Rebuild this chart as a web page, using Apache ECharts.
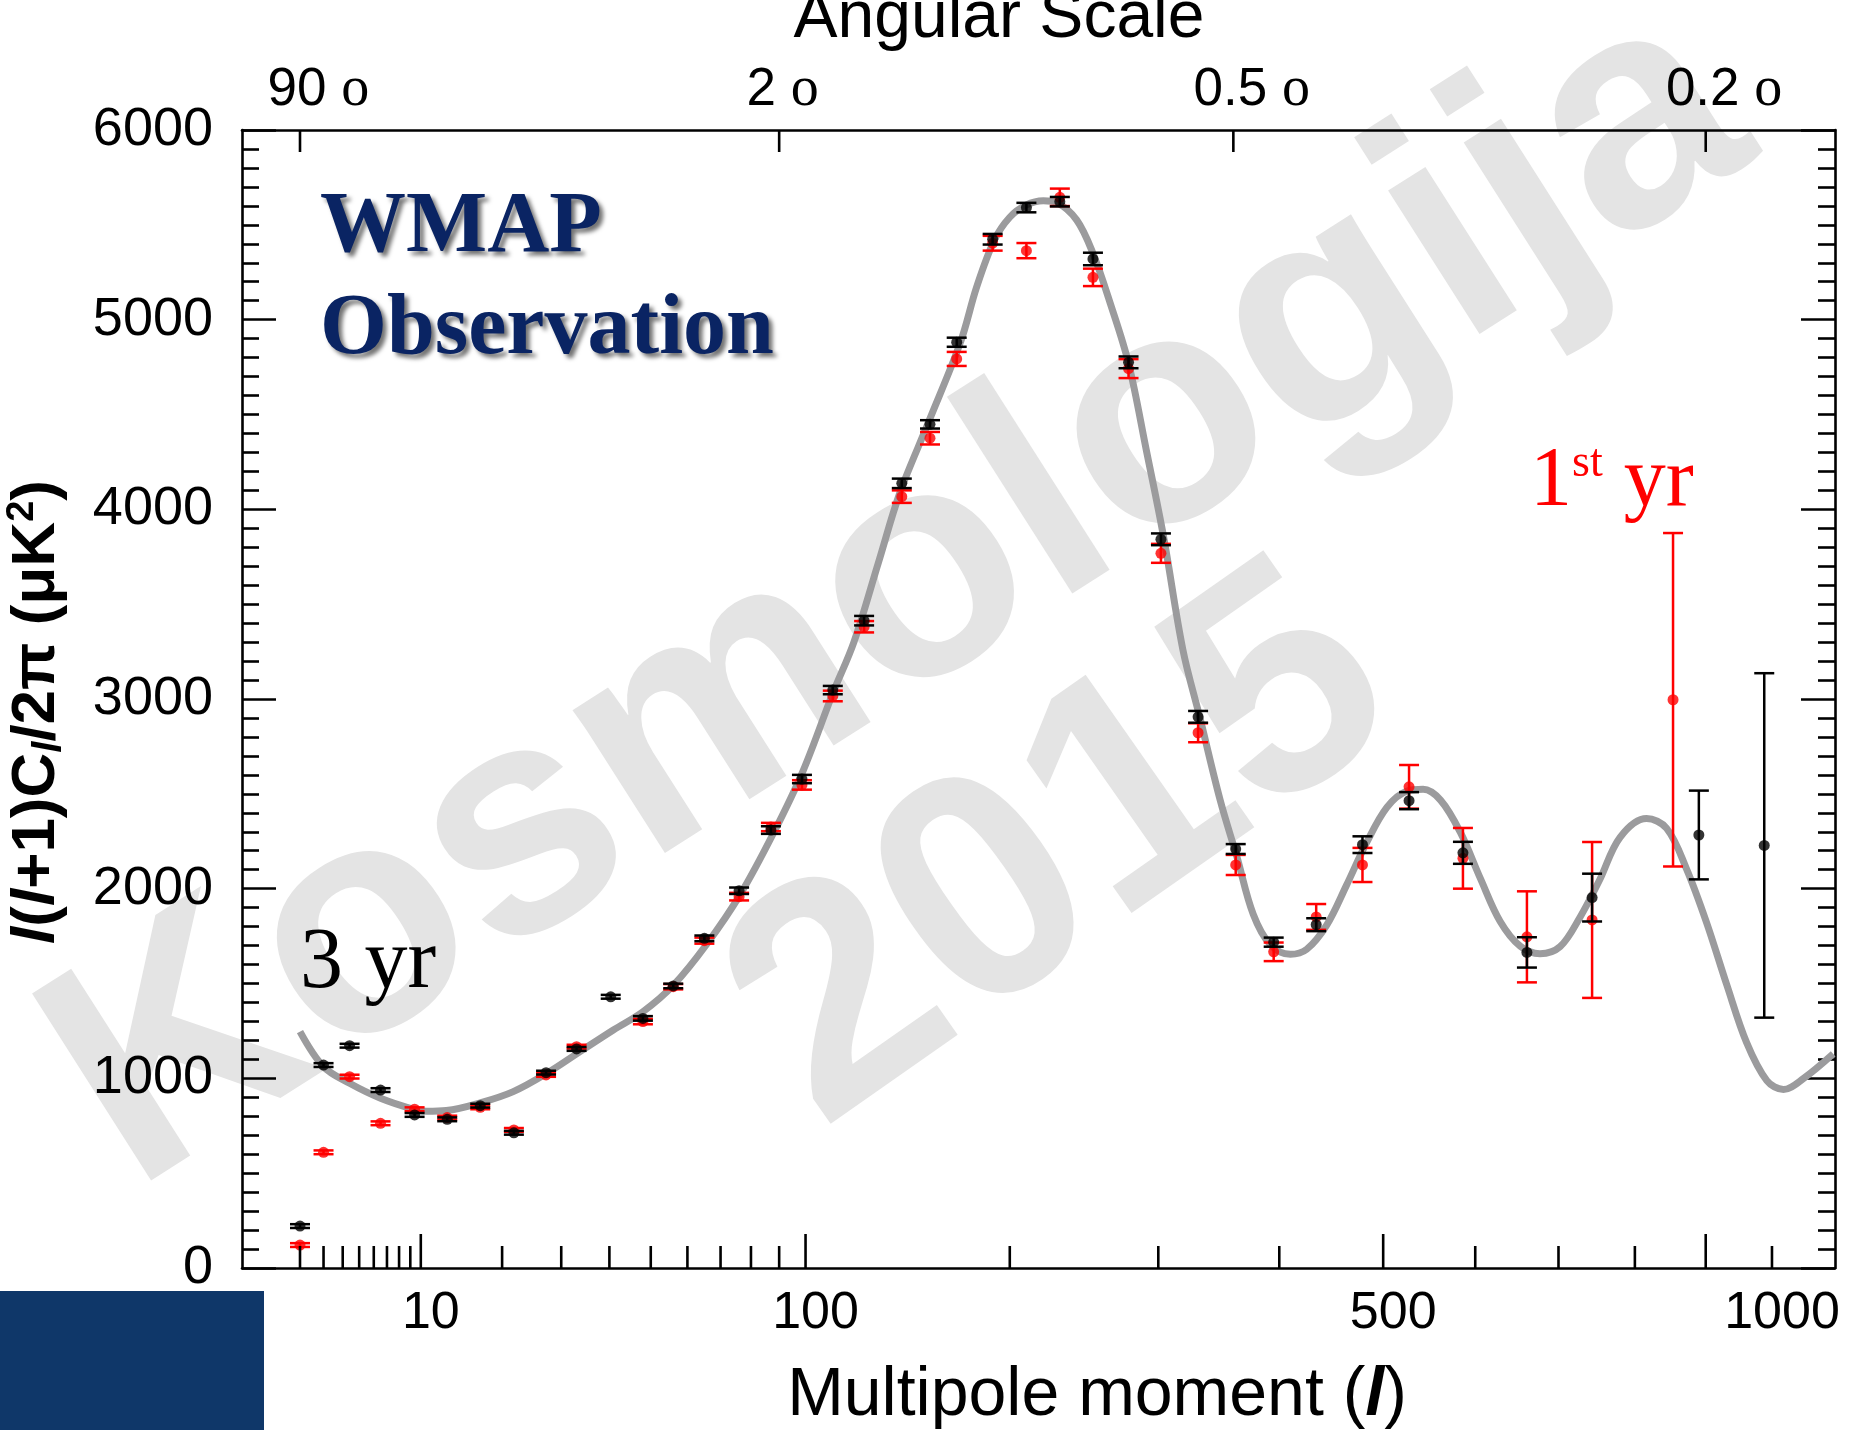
<!DOCTYPE html>
<html><head><meta charset="utf-8">
<script src="https://cdn.jsdelivr.net/npm/echarts@6.0.0/dist/echarts.min.js"></script>
<style>html,body{margin:0;padding:0;background:#fff}#c{width:1849px;height:1430px}</style>
</head><body><div id="c"></div>
<script>
// ---- data (multipole l, D_l in uK^2) ----
const curveL = [2,3,4.4,6.5,9.3,10.6,12.7,17,21.7,27.3,33.7,40.9,48,56,65.7,76.3,87.9,99,111,120,131,141,155,172,181,191,200,210,220.5,229,242,253,265,278,291,304,319,332.5,349,363,377,392,410,425,444,463,483,504,525,542,561,583,606,629,653,677,702,727,753,780,816,844,872,901,931,961,992,1018,1050,1098];
const curveV = [1246,1061,974,895,837,826,830,872,930,1026,1141,1255,1351,1490,1707,1967,2292,2620,3030,3300,3720,4085,4453,4880,5174,5420,5540,5605,5627,5617,5526,5350,5086,4770,4313,3856,3258,2900,2467,2168,1865,1705,1654,1680,1808,2016,2241,2430,2515,2524,2467,2298,2053,1827,1696,1657,1694,1847,2047,2271,2370,2318,2106,1824,1494,1188,988,941,1000,1129];

const yr3L = [2,3,4.4,6.5,9.4,12.8,16.9,21.8,27.2,33,40.3,48,56,65,76,87,98.6,111,124.5,142,156,170,190,210,231,253,278,302,331,362,395,434,479,527,586,661,743,890,988];
const yr3V = [221,1070,1172,938,807,784,856,713,1030,1155,1430,1316,1487,1738,1989,2309,2578,3047,3413,4137,4448,4881,5424,5591,5622,5320,4775,3842,2906,2209,1718,1810,2232,2464,2189,1664,1953,2283,2228];
const yr3Err = [10,10,10,10,10,10,10,10,10,10,10,12,12,15,17,20,22,22,25,25,22,24,28,25,25,33,31,31,31,26,24,34,44,45,58,80,126,234,908];

const yr1L = [2,3,4.4,6.5,9.4,12.8,16.9,21.8,27.2,33,48,56,65,76,87,98.6,111,124.5,142,156,170,190,210,231,253,278,302,331,362,395,434,479,527,586,661,743,853];
const yr1V = [121,610,1009,763,837,793,847,728,1018,1167,1299,1483,1726,1958,2325,2547,3016,3381,4067,4375,4793,5403,5364,5645,5223,4742,3768,2822,2125,1667,1851,2125,2537,2160,1746,1835,2996];
const yr1Err = [10,10,10,10,10,10,10,10,10,10,14,14,16,20,22,25,28,30,33,33,37,39,40,46,46,50,50,50,53,49,68,90,115,160,240,411,879];

const bottomTickL = [2,3,4,5,6,7,8,9,10,20,30,40,50,60,70,80,90,100,200,300,400,500,600,700,800,900,1000];
const bottomMajorL = [10,100,500,900];
const bottomLabelL = [10,100,500,1000];
const bottomLabels = ['10','100','500','1000'];
const topTickL = [2,90,360,900];
const topLabels = ['90','2','0.5','0.2'];
const topLabelShift = [-3,-18,-3,-3];   // pixel nudges of the angular labels (style only)

// ---- axis transform: the x axis is linear in l^0.4 ----
const P = 0.4;
const tx = l => Math.pow(l, P);
const XMIN = 0.747, XMAX = 16.471;

const SANS = '"Liberation Sans", Arial, sans-serif';
const SERIF = '"Liberation Serif", "Times New Roman", serif';

const measureCtx = document.createElement('canvas').getContext('2d');
function textW(s, font){ measureCtx.font = font; return measureCtx.measureText(s).width; }

function errBarSeries(L, V, E, color, name){
  return {
    type:'custom', name, coordinateSystem:'cartesian2d', silent:true, z:4,
    data: L.map((l,i)=>[tx(l), V[i], E[i]]),
    encode:{x:0,y:1},
    renderItem(params, api){
      const x = api.value(0), v = api.value(1), e = api.value(2);
      const hi = api.coord([x, v+e]), lo = api.coord([x, v-e]);
      const cw = 10;
      const st = {stroke: color, lineWidth: 2.5};
      return {type:'group', children:[
        {type:'line', shape:{x1:hi[0],y1:hi[1],x2:lo[0],y2:lo[1]}, style:st},
        {type:'line', shape:{x1:hi[0]-cw,y1:hi[1],x2:hi[0]+cw,y2:hi[1]}, style:st},
        {type:'line', shape:{x1:lo[0]-cw,y1:lo[1],x2:lo[0]+cw,y2:lo[1]}, style:st}
      ]};
    }
  };
}

const chart = echarts.init(document.getElementById('c'), null, {renderer:'canvas', width:1849, height:1430});

const yAxisBase = {
  type:'value', min:0, max:6000, interval:1000,
  axisLine:{show:true, lineStyle:{color:'#000', width:2.6}},
  axisTick:{show:true, inside:true, length:34, lineStyle:{color:'#000', width:2.6}},
  minorTick:{show:true, splitNumber:10, length:17, lineStyle:{color:'#000', width:2.6}},
  splitLine:{show:false}, minorSplitLine:{show:false}
};
const xAxisBase = {
  type:'value', min:XMIN, max:XMAX,
  axisLine:{show:true, onZero:false, lineStyle:{color:'#000', width:2.6}},
  axisTick:{show:false}, axisLabel:{show:false}, splitLine:{show:false}
};

const option = {
  backgroundColor:'#ffffff',
  animation:false,
  grid:{left:242, right:14, top:130, bottom:162, containLabel:false},
  xAxis:[Object.assign({position:'bottom'}, xAxisBase), Object.assign({position:'top'}, xAxisBase)],
  yAxis:[
    Object.assign({position:'left', axisLabel:{show:true, fontSize:54, color:'#000', margin:29, fontFamily:SANS, formatter:v=>String(v)}}, yAxisBase),
    Object.assign({position:'right', axisLabel:{show:false}}, yAxisBase)
  ],
  graphic:{elements:[
    // watermark
    {type:'text', z:-5, x:900, y:598, rotation:32.5*Math.PI/180,
     style:{text:'Kosmologija', font:'bold 322px '+SANS, fill:'#e4e4e4', align:'center', verticalAlign:'middle', textAlign:'center', textVerticalAlign:'middle'}},
    {type:'text', z:-5, x:1064, y:852, rotation:35*Math.PI/180,
     style:{text:'2015', font:'bold 322px '+SANS, fill:'#e4e4e4', align:'center', verticalAlign:'middle', textAlign:'center', textVerticalAlign:'middle'}},
    // navy block
    {type:'rect', z:20, shape:{x:0, y:1291, width:264, height:139}, style:{fill:'#0f3769'}},
    // titles
    {type:'text', z:20, x:999, y:19,
     style:{text:'Angular Scale', font:'66px '+SANS, fill:'#000', align:'center', verticalAlign:'middle', textAlign:'center', textVerticalAlign:'middle'}},
    {type:'text', z:20, x:1097, y:1396,
     style:{text:'{r|Multipole moment (}{i|l}{r|)}', align:'center', verticalAlign:'middle', textAlign:'center', textVerticalAlign:'middle',
       rich:{r:{fontFamily:SANS, fontSize:68, fill:'#000', lineHeight:72},
             i:{fontFamily:SANS, fontSize:68, fontWeight:'bold', fontStyle:'italic', fill:'#000', lineHeight:72}}}},
    {type:'text', z:20, x:37, y:712, rotation:Math.PI/2,
     style:{text:'{i|l}{r|(}{i|l}{r|+1)C}{s|l}{r|/2π (μK}{p|2}{r|)}', align:'center', verticalAlign:'middle', textAlign:'center', textVerticalAlign:'middle',
       rich:{r:{fontFamily:SANS, fontSize:62, fontWeight:'bold', fill:'#000', lineHeight:66},
             i:{fontFamily:SANS, fontSize:62, fontWeight:'bold', fontStyle:'italic', fill:'#000', lineHeight:66},
             s:{fontFamily:SANS, fontSize:40, fontWeight:'bold', fontStyle:'italic', fill:'#000', lineHeight:40, verticalAlign:'bottom'},
             p:{fontFamily:SANS, fontSize:38, fontWeight:'bold', fill:'#000', lineHeight:38, verticalAlign:'top'}}}},
    // annotations
    {type:'text', z:20, x:320, y:229,
     style:{text:'WMAP', font:'bold 86px '+SERIF, fill:'#0a2463', align:'left', verticalAlign:'middle', textAlign:'left', textVerticalAlign:'middle',
       shadowColor:'rgba(0,0,0,0.55)', shadowBlur:4, shadowOffsetX:4, shadowOffsetY:4,
       textShadowColor:'rgba(0,0,0,0.55)', textShadowBlur:4, textShadowOffsetX:4, textShadowOffsetY:4}},
    {type:'text', z:20, x:320, y:331,
     style:{text:'Observation', font:'bold 86px '+SERIF, fill:'#0a2463', align:'left', verticalAlign:'middle', textAlign:'left', textVerticalAlign:'middle',
       shadowColor:'rgba(0,0,0,0.55)', shadowBlur:4, shadowOffsetX:4, shadowOffsetY:4,
       textShadowColor:'rgba(0,0,0,0.55)', textShadowBlur:4, textShadowOffsetX:4, textShadowOffsetY:4}},
    {type:'text', z:20, x:300, y:964,
     style:{text:'3 yr', font:'86px '+SERIF, fill:'#000', align:'left', verticalAlign:'middle', textAlign:'left', textVerticalAlign:'middle'}},
    {type:'text', z:20, x:1530, y:483,
     style:{text:'{a|1}{s|st}{a| yr}', fill:'#ff0000', align:'left', verticalAlign:'middle', textAlign:'left', textVerticalAlign:'middle',
       rich:{a:{fontFamily:SERIF, fontSize:84, fill:'#ff0000', lineHeight:84},
             s:{fontFamily:SERIF, fontSize:46, fill:'#ff0000', lineHeight:46, verticalAlign:'top'}}}}
  ]},
  series:[
    {type:'line', name:'model', data: curveL.map((l,i)=>[tx(l), curveV[i]]), showSymbol:false, smooth:0.35,
     lineStyle:{color:'#9b9b9d', width:7}, z:2, silent:true},
    errBarSeries(yr1L, yr1V, yr1Err, '#ff0000', '1yr err'),
    {type:'scatter', name:'1st yr', data: yr1L.map((l,i)=>[tx(l), yr1V[i]]), symbol:'circle', symbolSize:11,
     itemStyle:{color:'#ff0000'}, z:5, silent:true},
    Object.assign(errBarSeries(yr3L, yr3V, yr3Err, '#000000', '3yr err'), {z:6}),
    {type:'scatter', name:'3 yr', data: yr3L.map((l,i)=>[tx(l), yr3V[i]]), symbol:'circle', symbolSize:11,
     itemStyle:{color:'#000000'}, z:7, silent:true},
    // bottom axis ticks
    {type:'custom', coordinateSystem:'cartesian2d', silent:true, z:8, clip:false,
     data: bottomTickL.map(l=>[tx(l), 0, bottomMajorL.indexOf(l)>=0?1:0]), encode:{x:0,y:1},
     renderItem(params, api){
       const p = api.coord([api.value(0), 0]);
       const len = api.value(2) ? 34 : 22;
       return {type:'line', shape:{x1:p[0],y1:p[1],x2:p[0],y2:p[1]-len}, style:{stroke:'#000', lineWidth:2.6}};
     }},
    // bottom axis labels
    {type:'custom', coordinateSystem:'cartesian2d', silent:true, z:8, clip:false,
     data: bottomLabelL.map((l,i)=>[tx(l), 0, i]), encode:{x:0,y:1},
     renderItem(params, api){
       const p = api.coord([api.value(0), 0]);
       return {type:'text', x:p[0]+10, y:1314,
         style:{text:bottomLabels[api.value(2)], font:'52px '+SANS, fill:'#000', align:'center', verticalAlign:'middle', textAlign:'center', textVerticalAlign:'middle'}};
     }},
    // top (angular scale) ticks and labels
    {type:'custom', coordinateSystem:'cartesian2d', silent:true, z:8, clip:false,
     data: topTickL.map((l,i)=>[tx(l), 6000, i]), encode:{x:0,y:1},
     renderItem(params, api){
       const p = api.coord([api.value(0), 6000]);
       const i = api.value(2);
       const num = topLabels[i];
       const w = textW(num, '53px "Liberation Sans"');
       return {type:'group', children:[
         {type:'line', shape:{x1:p[0],y1:p[1],x2:p[0],y2:p[1]+22}, style:{stroke:'#000', lineWidth:2.6}},
         {type:'text', x:p[0]-w/2+topLabelShift[i], y:90,
          style:{text:'{n|'+num+' }{o|o}', align:'left', verticalAlign:'middle', textAlign:'left', textVerticalAlign:'middle',
            rich:{n:{fontFamily:SANS, fontSize:53, fill:'#000', lineHeight:60},
                  o:{fontFamily:SERIF, fontSize:56, fill:'#000', lineHeight:60}}}}
       ]};
     }}
  ]
};
chart.setOption(option);
</script>
</body></html>
